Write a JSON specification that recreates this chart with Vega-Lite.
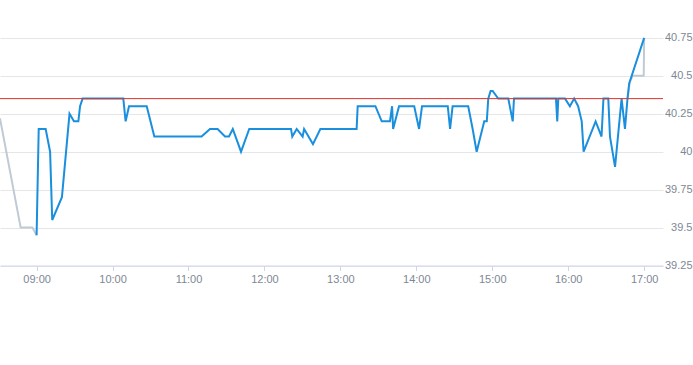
{
  "$schema": "https://vega.github.io/schema/vega-lite/v6.json",
  "width": 663,
  "height": 265.5,
  "autosize": "none",
  "padding": {"left": 0, "top": 0, "right": 30, "bottom": 99.5},
  "background": "white",
  "config": {
    "view": {"stroke": null},
    "font": "Liberation Sans"
  },
  "datasets": {
    "blue": [
      {"t": "2024-01-02T09:00:00", "v": 39.45},
      {"t": "2024-01-02T09:01:40", "v": 40.15},
      {"t": "2024-01-02T09:07:10", "v": 40.15},
      {"t": "2024-01-02T09:10:40", "v": 40.0},
      {"t": "2024-01-02T09:12:20", "v": 39.55},
      {"t": "2024-01-02T09:20:00", "v": 39.7},
      {"t": "2024-01-02T09:26:00", "v": 40.25},
      {"t": "2024-01-02T09:29:30", "v": 40.2},
      {"t": "2024-01-02T09:33:00", "v": 40.2},
      {"t": "2024-01-02T09:34:20", "v": 40.3},
      {"t": "2024-01-02T09:36:20", "v": 40.35},
      {"t": "2024-01-02T10:08:30", "v": 40.35},
      {"t": "2024-01-02T10:10:20", "v": 40.2},
      {"t": "2024-01-02T10:13:00", "v": 40.3},
      {"t": "2024-01-02T10:27:00", "v": 40.3},
      {"t": "2024-01-02T10:33:00", "v": 40.1},
      {"t": "2024-01-02T11:10:20", "v": 40.1},
      {"t": "2024-01-02T11:17:00", "v": 40.15},
      {"t": "2024-01-02T11:23:00", "v": 40.15},
      {"t": "2024-01-02T11:28:50", "v": 40.1},
      {"t": "2024-01-02T11:32:00", "v": 40.1},
      {"t": "2024-01-02T11:35:00", "v": 40.15},
      {"t": "2024-01-02T11:41:30", "v": 40.0},
      {"t": "2024-01-02T11:48:00", "v": 40.15},
      {"t": "2024-01-02T12:21:00", "v": 40.15},
      {"t": "2024-01-02T12:22:00", "v": 40.1},
      {"t": "2024-01-02T12:25:30", "v": 40.15},
      {"t": "2024-01-02T12:30:10", "v": 40.1},
      {"t": "2024-01-02T12:31:20", "v": 40.15},
      {"t": "2024-01-02T12:38:20", "v": 40.05},
      {"t": "2024-01-02T12:44:10", "v": 40.15},
      {"t": "2024-01-02T13:12:50", "v": 40.15},
      {"t": "2024-01-02T13:13:40", "v": 40.3},
      {"t": "2024-01-02T13:27:40", "v": 40.3},
      {"t": "2024-01-02T13:32:40", "v": 40.2},
      {"t": "2024-01-02T13:39:10", "v": 40.2},
      {"t": "2024-01-02T13:40:50", "v": 40.3},
      {"t": "2024-01-02T13:41:40", "v": 40.15},
      {"t": "2024-01-02T13:46:20", "v": 40.3},
      {"t": "2024-01-02T13:58:20", "v": 40.3},
      {"t": "2024-01-02T14:02:10", "v": 40.15},
      {"t": "2024-01-02T14:04:30", "v": 40.3},
      {"t": "2024-01-02T14:24:50", "v": 40.3},
      {"t": "2024-01-02T14:26:40", "v": 40.15},
      {"t": "2024-01-02T14:28:40", "v": 40.3},
      {"t": "2024-01-02T14:41:00", "v": 40.3},
      {"t": "2024-01-02T14:44:30", "v": 40.15},
      {"t": "2024-01-02T14:47:40", "v": 40.0},
      {"t": "2024-01-02T14:53:40", "v": 40.2},
      {"t": "2024-01-02T14:55:40", "v": 40.2},
      {"t": "2024-01-02T14:56:50", "v": 40.35},
      {"t": "2024-01-02T14:58:40", "v": 40.4},
      {"t": "2024-01-02T15:00:20", "v": 40.4},
      {"t": "2024-01-02T15:04:40", "v": 40.35},
      {"t": "2024-01-02T15:12:40", "v": 40.35},
      {"t": "2024-01-02T15:16:10", "v": 40.2},
      {"t": "2024-01-02T15:17:10", "v": 40.35},
      {"t": "2024-01-02T15:50:20", "v": 40.35},
      {"t": "2024-01-02T15:51:20", "v": 40.2},
      {"t": "2024-01-02T15:52:10", "v": 40.35},
      {"t": "2024-01-02T15:57:30", "v": 40.35},
      {"t": "2024-01-02T16:01:20", "v": 40.3},
      {"t": "2024-01-02T16:04:40", "v": 40.35},
      {"t": "2024-01-02T16:07:50", "v": 40.3},
      {"t": "2024-01-02T16:10:40", "v": 40.2},
      {"t": "2024-01-02T16:12:10", "v": 40.0},
      {"t": "2024-01-02T16:21:40", "v": 40.2},
      {"t": "2024-01-02T16:26:20", "v": 40.1},
      {"t": "2024-01-02T16:27:50", "v": 40.35},
      {"t": "2024-01-02T16:31:40", "v": 40.35},
      {"t": "2024-01-02T16:33:00", "v": 40.1},
      {"t": "2024-01-02T16:37:00", "v": 39.9},
      {"t": "2024-01-02T16:42:10", "v": 40.35},
      {"t": "2024-01-02T16:44:50", "v": 40.15},
      {"t": "2024-01-02T16:46:50", "v": 40.35},
      {"t": "2024-01-02T16:48:10", "v": 40.45},
      {"t": "2024-01-02T17:00:00", "v": 40.75}
    ],
    "gray": [
      {"seg": "a", "t": "2024-01-02T08:31:05", "v": 40.22},
      {"seg": "a", "t": "2024-01-02T08:47:25", "v": 39.5},
      {"seg": "a", "t": "2024-01-02T08:56:40", "v": 39.5},
      {"seg": "a", "t": "2024-01-02T09:00:00", "v": 39.45},
      {"seg": "b", "t": "2024-01-02T16:46:50", "v": 40.35},
      {"seg": "b", "t": "2024-01-02T16:48:40", "v": 40.46},
      {"seg": "b", "t": "2024-01-02T16:50:50", "v": 40.5},
      {"seg": "b", "t": "2024-01-02T16:59:40", "v": 40.5},
      {"seg": "b", "t": "2024-01-02T17:00:00", "v": 40.75}
    ],
    "ref": [{"v": 40.35}]
  },
  "encoding": {
    "x": {
      "field": "t",
      "type": "temporal",
      "scale": {
        "domain": [
          {"year": 2024, "month": 1, "date": 2, "hours": 8, "minutes": 31, "seconds": 5},
          {"year": 2024, "month": 1, "date": 2, "hours": 17, "minutes": 14, "seconds": 53}
        ]
      },
      "axis": {
        "title": null,
        "grid": false,
        "format": "%H:%M",
        "values": [
          {"year": 2024, "month": 1, "date": 2, "hours": 9},
          {"year": 2024, "month": 1, "date": 2, "hours": 10},
          {"year": 2024, "month": 1, "date": 2, "hours": 11},
          {"year": 2024, "month": 1, "date": 2, "hours": 12},
          {"year": 2024, "month": 1, "date": 2, "hours": 13},
          {"year": 2024, "month": 1, "date": 2, "hours": 14},
          {"year": 2024, "month": 1, "date": 2, "hours": 15},
          {"year": 2024, "month": 1, "date": 2, "hours": 16},
          {"year": 2024, "month": 1, "date": 2, "hours": 17}
        ],
        "domainColor": "#ccd6eb",
        "tickColor": "#ccd6eb",
        "tickSize": 5,
        "labelColor": "#7d8894",
        "labelFontSize": 11,
        "labelPadding": 3,
        "labelFlush": false
      }
    },
    "y": {
      "field": "v",
      "type": "quantitative",
      "scale": {"domain": [39.25, 41], "zero": false, "nice": false},
      "axis": {
        "title": null,
        "orient": "right",
        "values": [39.25, 39.5, 39.75, 40, 40.25, 40.5, 40.75],
        "format": ".2~f",
        "domain": false,
        "ticks": false,
        "gridColor": "#e6e6e6",
        "labelColor": "#7d8894",
        "labelFontSize": 11,
        "labelAlign": "right",
        "labelPadding": 29,
        "labelBaseline": "middle"
      }
    }
  },
  "layer": [
    {
      "data": {"name": "gray"},
      "mark": {"type": "line", "color": "#bfcad5", "strokeWidth": 2, "clip": true},
      "encoding": {"detail": {"field": "seg"}}
    },
    {
      "data": {"name": "blue"},
      "mark": {"type": "line", "color": "#1a8fdd", "strokeWidth": 2, "clip": true},
      "encoding": {}
    },
    {
      "data": {"name": "ref"},
      "mark": {"type": "rule", "color": "#e0332c", "strokeWidth": 1},
      "encoding": {"y": {"field": "v", "type": "quantitative"}, "x": {"value": 0}, "x2": {"value": 663}}
    }
  ]
}
